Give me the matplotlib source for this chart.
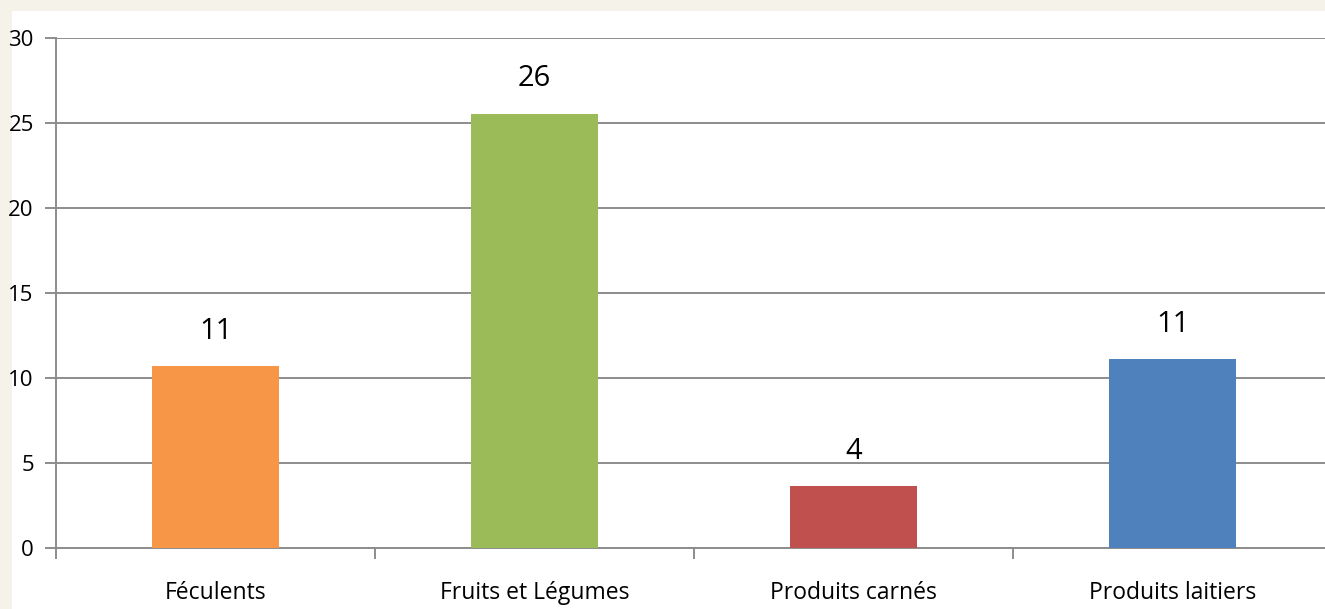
import matplotlib
matplotlib.use("Agg")
import matplotlib.pyplot as plt
from matplotlib.patches import Rectangle
import numpy as np

categories = ["Féculents", "Fruits et Légumes", "Produits carnés", "Produits laitiers"]
values = [10.7, 25.55, 3.65, 11.1]
labels = ["11", "26", "4", "11"]
colors = ["#F79646", "#9BBB59", "#C0504D", "#4F81BD"]
yticks = [0, 5, 10, 15, 20, 25, 30]

plt.rcParams['font.family'] = ['Open Sans', 'DejaVu Sans']

W, H = 1325, 609
fig = plt.figure(figsize=(W/100, H/100), dpi=100)
fig.patch.set_facecolor("#F5F2EA")
fig.patches.append(Rectangle((12/W, 0), 1, 1 - 11/H, transform=fig.transFigure,
                             facecolor="white", edgecolor="none", zorder=-10))

ax = fig.add_axes([56/W, 1 - 548/H, (1332-56)/W, (548-38)/H])
ax.set_zorder(5)
ax.set_facecolor("none")
x = np.arange(len(categories))
ax.bar(x, values, width=0.4, color=colors, zorder=3)
for xi, v, l in zip(x, values, labels):
    ax.text(xi, v + 1.2, l, ha="center", va="bottom", fontsize=21, color="#000000")

ax.set_xlim(-0.5, len(categories) - 0.5)
ax.set_ylim(0, 30)
ax.set_yticks(yticks)
ax.set_yticklabels([str(t) for t in yticks], fontsize=16)
ax.yaxis.grid(True, color="#8C8C8C", linewidth=1.4, zorder=0)
ax.set_axisbelow(True)

ax.set_xticks(np.arange(len(categories) + 1) - 0.5)
ax.set_xticklabels([])
ax.set_xticks(x, minor=True)
ax.set_xticklabels(categories, minor=True, fontsize=16.5)
ax.tick_params(axis="x", which="minor", length=0, pad=24)
ax.tick_params(axis="x", which="major", length=8, color="#8C8C8C", width=1.4)
ax.tick_params(axis="y", length=8, color="#8C8C8C", width=1.4, pad=8)

for s in ["top", "right"]:
    ax.spines[s].set_visible(False)
for s in ["left", "bottom"]:
    ax.spines[s].set_color("#8C8C8C")
    ax.spines[s].set_linewidth(1.4)

fig.savefig("out.png", dpi=100, facecolor=fig.get_facecolor())
